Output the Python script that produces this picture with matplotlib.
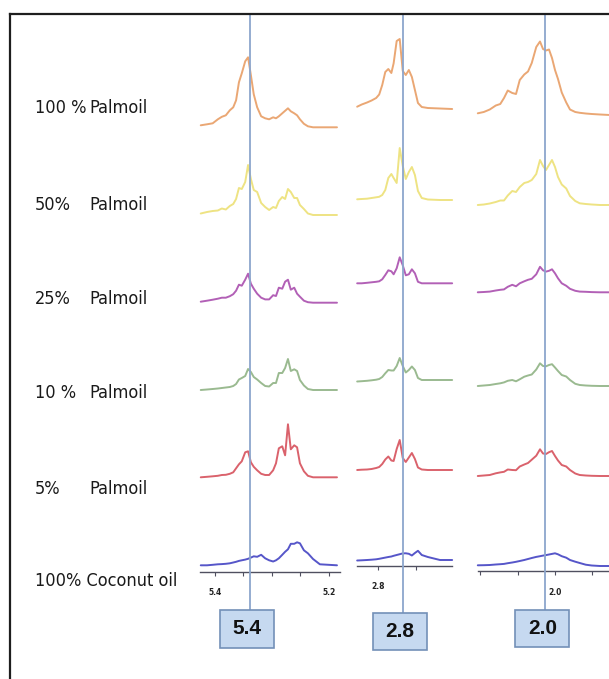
import numpy as np
import matplotlib
matplotlib.use("Agg")
import matplotlib.pyplot as plt
from matplotlib.patches import Rectangle
from matplotlib.lines import Line2D
from matplotlib import font_manager as fm

# ---------------- data ----------------
ROW_PCT = ["100 %", "50%", "25%", "10 %", "5%", "100% Coconut oil"]
ROW_OIL = ["Palmoil", "Palmoil", "Palmoil", "Palmoil", "Palmoil", ""]

# Panel 1 (around 5.3 ppm)
SHIFT_P1 = [5.425, 5.414, 5.404, 5.395, 5.388, 5.381, 5.374, 5.368, 5.363, 5.358,
            5.353, 5.347, 5.342, 5.337, 5.332, 5.326, 5.319, 5.312, 5.305, 5.298,
            5.293, 5.288, 5.282, 5.277, 5.272, 5.267, 5.261, 5.256, 5.251, 5.244,
            5.237, 5.228, 5.216, 5.186]
P1_PALM100 = [2, 3, 4, 8, 10.5, 12, 17, 20, 27, 45, 54, 66, 70, 52, 33, 20, 11, 9, 8, 10,
              9, 11, 14, 16.5, 19, 16, 14, 12, 8, 3.5, 1, 0, 0, 0]
P1_PALM50 = [1.5, 3, 4, 4.5, 6.5, 5.5, 9, 11, 16, 27, 26, 33, 50, 36, 25, 23, 12, 8, 5, 8,
             7, 14, 18, 16, 26, 23, 17, 17, 10, 6, 1.5, 0, 0, 0]
P1_PALM25 = [1, 2, 3, 4, 5, 5, 6.5, 8.5, 12, 18, 17, 23, 29, 19, 14, 9, 5, 3.3, 3.3, 7.5,
             6.7, 15, 14, 21, 23, 13, 15, 9, 6, 2, 0.5, 0, 0, 0]
P1_PALM10 = [0, 0.5, 1, 1.5, 2, 2.5, 3, 4, 6, 10.5, 12, 14, 21, 18, 13, 10.5, 7, 4, 3.5, 7,
             7, 17, 17, 22, 31, 19, 20.7, 19, 10, 4.5, 1, 0, 0, 0]
P1_PALM5 = [0, 0.5, 1, 1.5, 2.3, 2.5, 3.5, 5, 9, 13, 16, 25, 26, 15, 10.5, 7, 3.5, 2.3, 2.3, 7,
            14, 29, 31, 22, 53, 28, 32, 30, 14, 6, 1.5, 0, 0, 0]
P1_COCO = [0, 0, 0.5, 1, 1.2, 1.5, 2, 2.8, 3.5, 4.4, 5, 5.7, 6.5, 7.7, 9, 8.5, 10.5, 7, 5, 3.8,
           5, 7, 10.5, 13.5, 16, 21.5, 21.5, 23, 22, 15, 12, 6.3, 1, 0]

# Panel 2 (around 2.77 ppm)
SHIFT_P2 = [2.827, 2.821, 2.814, 2.808, 2.802, 2.798, 2.794, 2.790, 2.786, 2.782,
            2.779, 2.775, 2.771, 2.767, 2.763, 2.759, 2.755, 2.751, 2.747, 2.742,
            2.734, 2.718, 2.702]
P2_PALM100 = [2.3, 4.5, 6.5, 8.5, 11, 14.5, 24, 37, 40, 36, 45.7, 68, 70, 38, 34, 39, 32, 19, 6, 2,
              1, 0.5, 0]
P2_PALM50 = [0.7, 1, 1.3, 2, 2.7, 3.2, 5, 10, 22, 26, 22, 17, 52, 34, 21, 28, 33, 25, 9, 2,
             0.5, 0, 0]
P2_PALM25 = [0, 0, 0.5, 1, 1.5, 2, 4, 8.3, 13, 12, 9, 15, 26, 18, 8, 9, 14, 10, 1.5, 0,
             0, 0, 0]
P2_PALM10 = [-1.5, -1.2, -0.8, -0.3, 0.3, 1, 3, 6.7, 10, 9.5, 9.5, 14, 22, 14, 7.5, 10, 13.5, 10, 2, 0,
             0, 0, 0]
P2_PALM5 = [0, 0.3, 0.5, 1, 2, 3, 6, 10.5, 13.5, 9.5, 9, 21, 30, 12, 8, 12.5, 17, 11, 2.5, 0.5,
            0, 0, 0]
P2_COCO = [-0.5, -0.3, 0, 0.3, 0.7, 1.2, 1.8, 2.4, 3, 3.5, 4.2, 5, 5.8, 6.6, 6.7, 6.2, 4.5, 7, 9.2, 5,
           3, 0, 0]

# Panel 3 (around 2.0 ppm)
SHIFT_P3 = [2.103, 2.095, 2.087, 2.079, 2.073, 2.068, 2.063, 2.057, 2.052, 2.047,
            2.041, 2.036, 2.031, 2.025, 2.020, 2.016, 2.012, 2.008, 2.004, 2.000,
            1.996, 1.991, 1.985, 1.980, 1.973, 1.967, 1.959, 1.951, 1.940, 1.927]
P3_PALM100 = [1.7, 3, 5.5, 9.5, 11, 17, 24.5, 22, 21, 35, 40.5, 43.5, 52, 68, 73.5, 66, 64.5, 65.5, 57, 45,
              36, 22.5, 12.5, 5.5, 3, 2.2, 1.5, 1, 0.5, 0]
P3_PALM50 = [0, 0.5, 1.5, 3, 4.5, 4.5, 9.5, 14, 13, 18, 22, 23, 25, 31, 45, 39, 35, 40, 45, 38,
             28, 20.5, 16.5, 9, 4, 1.7, 1, 0.5, 0, 0]
P3_PALM25 = [0, 0.3, 0.7, 1.8, 2.5, 2.9, 5.5, 7.5, 6, 9, 11, 12.5, 13.5, 18, 25.5, 22, 20.7, 21.5, 23, 19,
             14, 9, 6.5, 3.5, 1.5, 0.7, 0.5, 0.2, 0, 0]
P3_PALM10 = [0, 0.5, 1, 2, 2.7, 3.6, 5.2, 6, 4.7, 6.7, 9.3, 10.5, 11.5, 16.5, 22.7, 20, 19.7, 21, 21.8, 18.5,
             15, 11, 9.5, 6, 2.2, 1, 0.5, 0.2, 0, 0]
P3_PALM5 = [0, 0.5, 1, 2.7, 3.6, 4.2, 6.5, 6, 5.8, 9.5, 11.5, 13, 16.3, 20.3, 26.7, 22.5, 22, 23.8, 25, 20,
            15.5, 11, 9.5, 6, 2.5, 1, 0.5, 0.2, 0, 0]
P3_COCO = [0.7, 0.8, 1, 1.5, 1.8, 2.1, 2.8, 3.5, 4.2, 5, 6, 7, 8, 9.1, 9.8, 10.4, 10.9, 11.5, 12.1, 12.7,
           11.7, 9.8, 8.3, 6, 4.3, 3, 1.3, 0.5, 0, 0]

MARKER_SHIFTS = [5.339, 2.767, 2.013]
MARKER_LABELS = ["5.4", "2.8", "2.0"]

# ---------------- layout / style ----------------
W, H = 609, 679
ROW_COLORS = ['#eaa774', '#eee383', '#b260b6', '#9aba90', '#da626c', '#5656c9']
ROW_LABEL_Y = [108, 205, 299, 393, 489, 581]
FRAME_TOP, FRAME_LEFT = 14, 10

# choose a narrow font for the row labels
_fonts = [(f.name, f.stretch) for f in fm.fontManager.ttflist]
if any(n == 'Liberation Sans Narrow' for n, s in _fonts):
    LABEL_KW = dict(family=['Liberation Sans Narrow', 'DejaVu Sans'], fontsize=15)
elif any(n == 'DejaVu Sans' and s in ('condensed', 'semi-condensed') for n, s in _fonts):
    LABEL_KW = dict(family=['DejaVu Sans'], fontstretch='condensed', fontsize=13)
else:
    LABEL_KW = dict(family=['Roboto', 'DejaVu Sans'], fontsize=13)

panels = [
    dict(shift=SHIFT_P1, rows=[P1_PALM100, P1_PALM50, P1_PALM25, P1_PALM10, P1_PALM5, P1_COCO],
         left=200, right=340, bottom=571.7, xlim=(5.4263, 5.1807),
         ticks=[5.4, 5.35, 5.3, 5.25, 5.2], labels=["5.4", "", "", "", "5.2"],
         base=[127.3, 215, 302.7, 390, 477.3, 565.3], box=(610, 648), pad=9),
    dict(shift=SHIFT_P2, rows=[P2_PALM100, P2_PALM50, P2_PALM25, P2_PALM10, P2_PALM5, P2_COCO],
         left=356.7, right=451.7, bottom=565.7, xlim=(2.8276, 2.7026),
         ticks=[2.8, 2.75], labels=["2.8", ""],
         base=[109, 200, 283.3, 380, 470, 560], box=(612.7, 650), pad=9),
    dict(shift=SHIFT_P3, rows=[P3_PALM100, P3_PALM50, P3_PALM25, P3_PALM10, P3_PALM5, P3_COCO],
         left=478, right=620, bottom=571, xlim=(2.1027, 1.9133),
         ticks=[2.1, 2.05, 2.0, 1.95], labels=["", "", "2.0", ""],
         base=[115, 205, 292.3, 386, 476, 566], box=(610, 647), pad=9),
]

fig = plt.figure(figsize=(W / 100, H / 100), dpi=100)
fig.patch.set_facecolor('white')

# frame
fig.add_artist(Line2D([FRAME_LEFT / W, FRAME_LEFT / W], [0, 1 - FRAME_TOP / H],
                      transform=fig.transFigure, color='#1e1e1e', lw=1.6))
fig.add_artist(Line2D([FRAME_LEFT / W, 1.0], [1 - FRAME_TOP / H, 1 - FRAME_TOP / H],
                      transform=fig.transFigure, color='#1e1e1e', lw=1.6))

for i, (pct, oil) in enumerate(zip(ROW_PCT, ROW_OIL)):
    fig.text(35 / W, 1 - ROW_LABEL_Y[i] / H, pct, ha='left', va='center',
             color='#1a1a1a', **LABEL_KW)
    if oil:
        fig.text(89 / W, 1 - ROW_LABEL_Y[i] / H, oil, ha='left', va='center',
                 color='#1a1a1a', **LABEL_KW)

for p, mshift, mlabel in zip(panels, MARKER_SHIFTS, MARKER_LABELS):
    height = p['bottom'] - FRAME_TOP
    ax = fig.add_axes([p['left'] / W, 1 - p['bottom'] / H,
                       (p['right'] - p['left']) / W, height / H])
    ax.set_facecolor('none')
    ax.set_xlim(*p['xlim'])
    ax.set_ylim(0, height)
    for vals, base, col in zip(p['rows'], p['base'], ROW_COLORS):
        off = p['bottom'] - base
        ax.plot(p['shift'], off + np.asarray(vals, dtype=float), color=col, lw=1.4,
                solid_joinstyle='round', solid_capstyle='round', clip_on=False)
    for s in ['top', 'left', 'right']:
        ax.spines[s].set_visible(False)
    ax.spines['bottom'].set_color('#505060')
    ax.spines['bottom'].set_linewidth(1.0)
    ax.set_yticks([])
    ax.set_xticks(p['ticks'])
    ax.set_xticklabels(p['labels'])
    ax.tick_params(axis='x', direction='out', length=3, width=0.8, colors='#505060',
                   labelsize=5.5, pad=p['pad'], labelcolor='#222222')
    for t in ax.get_xticklabels():
        t.set_fontweight('bold')
    # vertical marker line
    box_top, box_bot = p['box']
    ax.axvline(mshift, ymin=-(box_top - p['bottom']) / height, ymax=1.0,
               color='#8ca6cd', lw=1.3, clip_on=False, zorder=5)
    # label box
    xpix = ax.transData.transform((mshift, 0))[0] - 3
    bw = 54
    fig.add_artist(Rectangle(((xpix - bw / 2) / W, 1 - box_bot / H), bw / W, (box_bot - box_top) / H,
                             transform=fig.transFigure, facecolor='#c6d9f0',
                             edgecolor='#7390b8', lw=1.2))
    fig.text(xpix / W, 1 - (box_top + box_bot) / 2 / H, mlabel, ha='center', va='center',
             fontsize=15, fontweight='bold', family=['Liberation Sans', 'DejaVu Sans'],
             color='#111111')

fig.savefig('out.png', dpi=100)
